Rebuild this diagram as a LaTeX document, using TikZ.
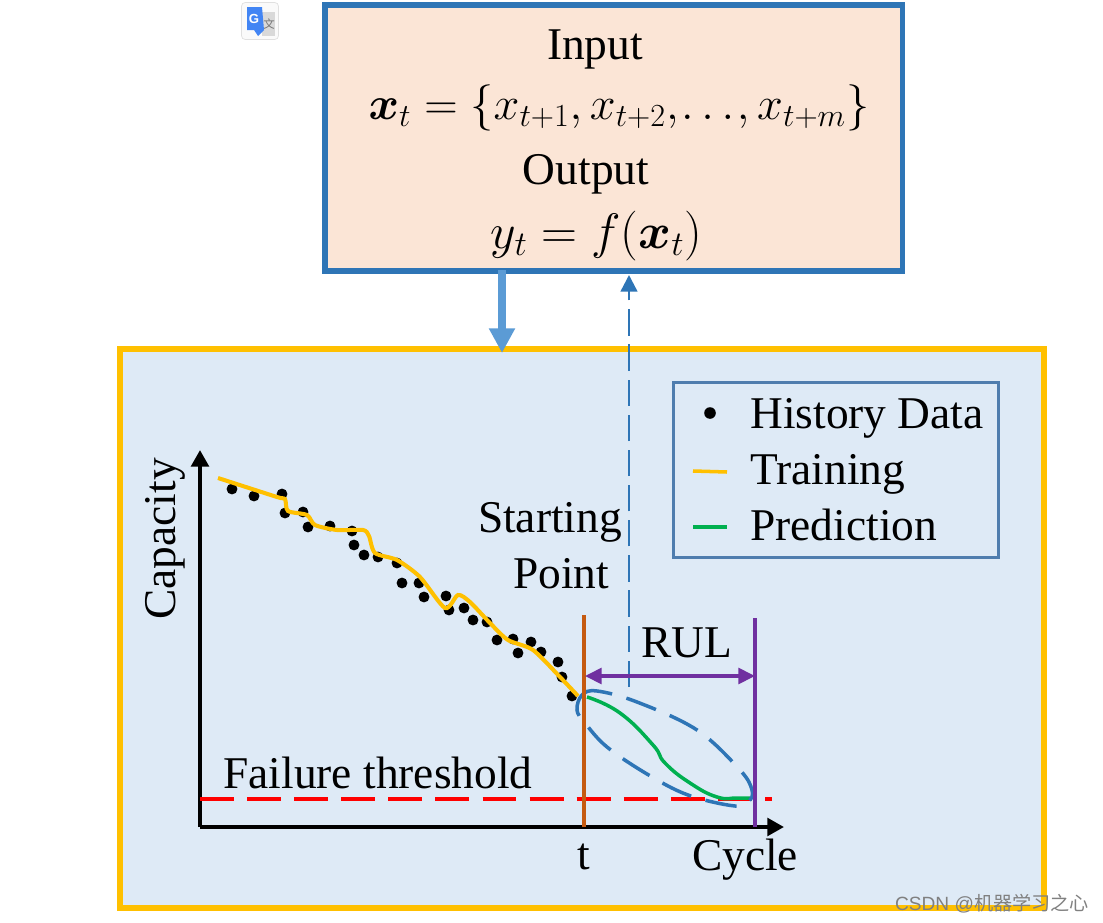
\documentclass[tikz,border=0pt]{standalone}
\usepackage{amsmath}
\usepackage{fontspec}
\setmainfont{Liberation Serif}
\newfontfamily\cjkfont{Noto Sans CJK SC}
\newfontfamily\marksans{Liberation Sans}
\usetikzlibrary{arrows.meta, positioning}
\definecolor{boxblue}{HTML}{2E75B6}
\definecolor{legendblue}{HTML}{4F7DAE}
\definecolor{lightblue}{HTML}{5B9BD5}
\definecolor{panelblue}{HTML}{DEEAF6}
\definecolor{peach}{HTML}{FBE5D6}
\definecolor{gold}{HTML}{FFC000}
\definecolor{rulpurple}{HTML}{7030A0}
\definecolor{rust}{HTML}{C55A11}
\definecolor{predgreen}{HTML}{00B050}
\definecolor{iconblue}{HTML}{4285F4}

\begin{document}
\begin{tikzpicture}[x=0.02cm, y=-0.02cm,
    panel/.style={rectangle, line width=3.4pt, anchor=north west, inner sep=0pt},
    label/.style={inner sep=0pt, font=\fontsize{25.85}{30}\selectfont},
    marktext/.style={inner sep=0pt, font=\fontsize{25.85}{30}\selectfont, anchor=base west},
    axisline/.style={draw=black, line width=2.2pt, -{Triangle[length=9.5pt, width=10pt]}},
    datadot/.style={circle, fill=black, inner sep=0pt, minimum size=6.2pt}]
    \useasboundingbox (0,0) rectangle (1103,923);

    % panels
    \node [panel, draw=boxblue, fill=peach, minimum width=328.7pt, minimum height=151.5pt] (modelbox) at (322,2) {};
    \node [panel, draw=gold, fill=panelblue, minimum width=526.1pt, minimum height=318.4pt] (databox) at (117,346) {};
    \node [rectangle, draw=legendblue, line width=1.5pt, anchor=north west, inner sep=0pt, minimum width=185pt, minimum height=99.6pt] (legendbox) at (672,381) {};

    % model text
    \node [label] (inputlab) at (595,49) {Input};
    \node [label, scale=1.06, transform shape] (xeq) at (619,108) {$\boldsymbol{x}_t=\{x_{t+1},x_{t+2},\mkern-2mu\ldots\mkern-2mu,x_{t+m}\}$};
    \node [label] (outputlab) at (586,174) {Output};
    \node [label, scale=1.14, transform shape] (yeq) at (596.5,236) {$y_t=f(\boldsymbol{x}_t)$};

    % arrows between the panels
    \coordinate (feedfoot) at (502,270);
    \coordinate (feedtip) at (502,353);
    \draw [draw=lightblue, line width=5pt, -{Triangle[length=14pt, width=14pt]}] (feedfoot) -- (feedtip);
    \coordinate (backfoot) at (629,687);
    \coordinate (backtip) at (629,275);
    \draw [draw=boxblue, line width=1.4pt, dash pattern=on 15pt off 5pt, -{Triangle[length=9.5pt, width=9.5pt]}] (backfoot) -- (backtip);

    % axes
    \coordinate (origin) at (200,827);
    \coordinate (ytip) at (200,450);
    \coordinate (xtip) at (784,827);
    \draw [axisline] (origin) -- (ytip);
    \draw [axisline] (origin) -- (xtip);
    \node [label, rotate=90] (capacitylab) at (165,539) {Capacity};
    \node [label] (cyclelab) at (745,860) {Cycle};
    \node [label] (tlab) at (584,857) {t};

    % threshold
    \coordinate (threshl) at (200,799);
    \coordinate (threshr) at (772,799);
    \draw [draw=red, line width=1.8pt, dash pattern=on 19.3pt off 7.5pt] (threshl) -- (threshr);
    \node [label] (faillab) at (378,773) {Failure threshold};

    % history points
    \foreach \px/\py [count=\i] in {232/489, 254/496, 282/494, 285/513, 303/512, 308/527, 330/526, 352/531,
        354/545, 364/555, 378/557, 397/563, 402/583, 419/583, 424/597, 446/596, 449/610, 464/608, 473/620,
        487/622, 497/640, 513/639, 518/653, 531/642, 541/652, 558/662, 562/677, 572/696}
        \node [datadot] (pt\i) at (\px,\py) {};

    % fitted curves
    \draw [draw=gold, line width=2.3pt] plot [smooth, tension=0.45] coordinates {(218,478) (277,497) (285,499)
        (288,511) (307,515) (315,525) (337,530) (363,530) (369,536) (375,553) (397,560) (420,577) (445,608)
        (458,595) (470,602) (490,623) (508,640) (533,650) (560,677) (578,696)};
    \draw [draw=predgreen, line width=2pt] plot [smooth, tension=0.8] coordinates {(587,697) (620,713) (653,745)
        (665,763) (690,783) (717,797) (737,798) (750,798)};
    \draw [draw=boxblue, line width=2pt, dash pattern=on 18pt off 8.5pt] plot [smooth cycle, tension=0.6] coordinates {(577,710)
        (582,695) (597,691) (637,702) (697,730) (740,770) (752,790) (749,801) (735,806) (688,795) (647,774) (607,747) (585,723)};

    % cycle marks
    \coordinate (tfoot) at (584,827);
    \coordinate (ttop) at (584,615);
    \coordinate (efoot) at (755,827);
    \coordinate (etop) at (755,618);
    \draw [draw=rust, line width=2.2pt] (tfoot) -- (ttop);
    \draw [draw=rulpurple, line width=2.2pt] (efoot) -- (etop);
    \coordinate (rulleft) at (585,676);
    \coordinate (rulright) at (755,676);
    \draw [draw=rulpurple, line width=2pt, {Triangle[length=9.5pt, width=9pt]}-{Triangle[length=9.5pt, width=9pt]}] (rulleft) -- (rulright);
    \node [label] (rullab) at (687,643) {RUL};
    \node [label] (startlab) at (550,522) {Starting};
    \node [label] (pointlab) at (561,574) {Point};

    % legend
    \node [datadot, minimum size=6.6pt] (legdot) at (710,413) {};
    \node [marktext] (leghist) at (750,428) {History Data};
    \node [marktext] (legtrain) at (750,484) {Training};
    \node [marktext] (legpred) at (750,540) {Prediction};
    \coordinate (trainl) at (693,471);
    \coordinate (trainr) at (727,472);
    \coordinate (predl) at (693,527);
    \coordinate (predr) at (727,527);
    \draw [draw=gold, line width=2pt] (trainl) -- (trainr);
    \draw [draw=predgreen, line width=2pt] (predl) -- (predr);

    % page marks
    \node [inner sep=0pt, text=gray, font=\marksans\fontsize{10.9}{12}\selectfont] (watermark) at (992,904) {CSDN @{\cjkfont 机器学习之心}};
    \node [rectangle, rounded corners=2pt, draw=black!12, fill=black!2, line width=0.4pt, minimum width=21pt, minimum height=21pt, inner sep=0pt] (gicon) at (260,21) {};
    \fill [black!15] (262,12) rectangle (275,36);
    \node [inner sep=0pt, text=black!55, font=\cjkfont\fontsize{6.5}{7}\selectfont] (giconzh) at (269,24) {文};
    \fill [iconblue] (247,7) -- (262,7) -- (264,30) -- (258,36) -- (254,30) -- (247,30) -- cycle;
    \node [inner sep=0pt, text=white, font=\marksans\bfseries\fontsize{7.5}{8}\selectfont] (giconlab) at (254,19) {G};
\end{tikzpicture}
\end{document}
